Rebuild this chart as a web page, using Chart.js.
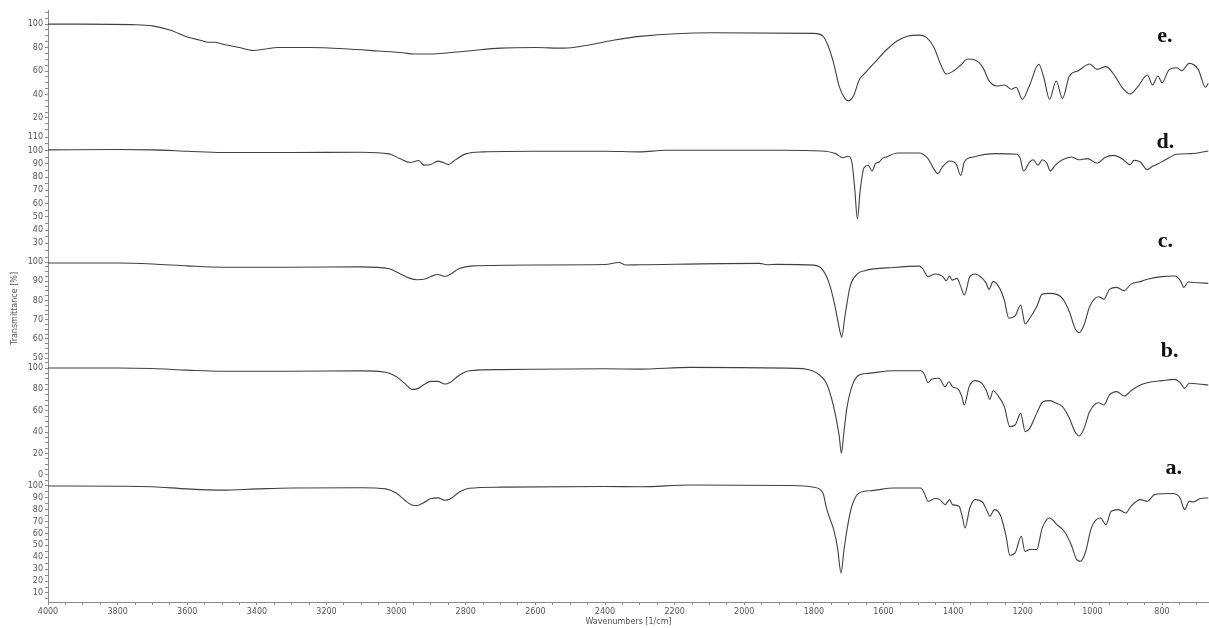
<!DOCTYPE html>
<html>
<head>
<meta charset="utf-8">
<script src="https://cdn.jsdelivr.net/npm/chart.js@4.4.1/dist/chart.umd.min.js"></script>
<style>
  html, body { margin: 0; padding: 0; background: #fff; }
  #wrap { width: 1209px; height: 628px; }
</style>
</head>
<body>
<div id="wrap"><canvas id="ftir" width="1209" height="628"></canvas></div>
<script>
// Espectros FTIR (número de onda en cm-1, transmitancia en %)
const waveA = [4000, 3800, 3700, 3600, 3500, 3400, 3300, 3100, 3030, 3000, 2975, 2955, 2940, 2920, 2900, 2880, 2860, 2845, 2820, 2790, 2700, 2400, 2300,
  2154, 1863, 1800, 1774, 1764, 1753, 1743, 1732, 1722, 1714, 1704, 1691, 1670, 1633, 1571, 1493, 1483, 1472, 1451, 1438, 1423, 1410, 1402, 1383, 1373, 1366,
  1352, 1337, 1316, 1302, 1295, 1281, 1263, 1248, 1237, 1222, 1204, 1194, 1180, 1160, 1144, 1123, 1102, 1081, 1061, 1045, 1034, 1019, 1003, 977, 961, 946,
  925, 904, 889, 862, 842, 821, 769, 748, 735, 722, 711, 690, 667];
const transA = [100, 99.8, 99.3, 97.5, 96.5, 97.5, 98.3, 98.5, 97.5, 94, 88, 84, 83.5, 86, 89.5, 90, 88, 89, 94.5, 98, 99, 99.5, 99.3,
  100.8, 100.4, 98.9, 94.1, 81.5, 71.7, 63.3, 47.9, 26.8, 45.1, 64.7, 82.9, 94.1, 96.1, 98.3, 98.3, 94.1, 87.1, 89.4, 88.5, 84.3, 88.5, 84.3, 82.9, 73.1, 64.7,
  81.5, 88.5, 86.5, 78.7, 74.5, 80.1, 74.5, 57.7, 41.7, 43.7, 57.7, 45.1, 46.5, 46.5, 64.7, 73.1, 67.5, 61.9, 50.7, 38.1, 36.7, 45.1, 64.7, 73.1, 67.5, 78.7,
  80.1, 77.3, 82.9, 88.5, 87.1, 92.7, 93.6, 89.9, 80.1, 87.1, 86.5, 89.4, 89.9];

const waveB = [4000, 3800, 3700, 3600, 3500, 3300, 3100, 3030, 3000, 2970, 2955, 2940, 2920, 2900, 2880, 2860, 2845, 2820, 2790, 2700, 2400, 2300,
  2154, 1852, 1790, 1764, 1748, 1737, 1727, 1721, 1714, 1706, 1691, 1670, 1644, 1571, 1493, 1483, 1472, 1462, 1441, 1423, 1412, 1402, 1385, 1375, 1368,
  1354, 1337, 1316, 1302, 1295, 1285, 1269, 1253, 1237, 1222, 1206, 1193, 1180, 1160, 1142, 1123, 1107, 1086, 1066, 1050, 1038, 1024, 1008, 982, 967, 951,
  930, 909, 889, 862, 842, 800, 764, 748, 735, 722, 696, 667];
const transB = [100, 100, 99.5, 98, 97, 97, 97.3, 96, 92, 84, 80, 80.5, 84.5, 87.5, 87.5, 85, 86.5, 93, 97.5, 98.5, 99.3, 99,
  100.6, 99.7, 95, 85.7, 70.1, 54.5, 35.8, 20.3, 39, 60.8, 82.6, 93.5, 95, 97.5, 97.5, 94.4, 86.3, 89.4, 90.4, 82.6, 87.2, 82.6, 80.1, 73.2, 65.4,
  82.6, 88.2, 85.1, 76.9, 70.7, 78.8, 73.2, 63.9, 45.2, 46.7, 57.6, 40.5, 43.6, 57.6, 68.5, 69.5, 67.6, 63.9, 53, 40.5, 36.5, 43.6, 59.2, 67.6, 65.4, 74.8,
  77.9, 73.8, 78.8, 84.1, 86.3, 88.2, 89.4, 86.3, 81, 85.7, 85.1, 84.1];

const waveC = [4000, 3800, 3700, 3600, 3500, 3300, 3100, 3020, 2990, 2960, 2940, 2920, 2900, 2880, 2860, 2845, 2820, 2780, 2600, 2400, 2360, 2340, 2300,
  1956, 1935, 1904, 1800, 1774, 1753, 1737, 1727, 1720, 1711, 1696, 1675, 1654, 1571, 1498, 1488, 1472, 1451, 1431, 1420, 1410, 1403, 1389, 1378, 1368,
  1352, 1337, 1316, 1305, 1297, 1285, 1269, 1253, 1240, 1222, 1206, 1193, 1180, 1160, 1144, 1123, 1104, 1086, 1066, 1050, 1038, 1024, 1008, 982, 967, 951,
  930, 909, 889, 862, 842, 800, 764, 748, 737, 725, 696, 667];
const transC = [99.5, 99.5, 99, 98, 97.3, 97.3, 97.5, 96.5, 94, 91.5, 90.8, 91, 92.5, 93.5, 92.5, 93.5, 96.5, 98, 98.5, 98.7, 99.8, 98.5, 98.6,
  99.3, 98.6, 98.8, 98.4, 95.8, 87.2, 75, 65.5, 60.8, 71.5, 87.2, 93.8, 95.5, 97.2, 97.9, 96.7, 92.4, 93.8, 92.7, 90.3, 92.7, 90.6, 91.5, 87.2, 82.8,
  92.4, 93.8, 91.5, 88.9, 85.8, 89.8, 87.2, 80.2, 70.7, 71.9, 77.6, 67.7, 70.7, 76.7, 83.3, 83.7, 83.3, 81.1, 74.1, 65.5, 63.2, 67.2, 76.7, 81.9, 80.6, 85.8,
  86.8, 85.1, 88.5, 89.8, 91, 92.4, 92.7, 90.6, 86.8, 89.6, 89.2, 88.9];

const waveD = [4000, 3800, 3700, 3600, 3500, 3300, 3100, 3020, 2990, 2960, 2935, 2920, 2900, 2880, 2865, 2850, 2830, 2800, 2750, 2600, 2400, 2300,
  2227, 1894, 1779, 1737, 1717, 1701, 1691, 1683, 1675, 1667, 1656, 1644, 1633, 1623, 1612, 1604, 1592, 1560, 1498, 1472, 1456, 1444, 1431, 1410, 1392,
  1378, 1368, 1342, 1279, 1217, 1207, 1198, 1180, 1170, 1156, 1144, 1131, 1121, 1107, 1086, 1060, 1040, 1014, 987, 961, 940, 915, 892, 880, 862, 843,
  827, 811, 790, 758, 717, 667];
const transD = [100.5, 100.8, 100.5, 99.5, 98.5, 98.5, 98.7, 97.5, 94, 91, 92.5, 89, 89.5, 92, 91, 89.5, 93, 97.5, 99, 99.5, 99.5, 99,
  100.2, 100.2, 99.7, 97.7, 94.6, 95.7, 91.4, 72.5, 48.6, 70, 87.1, 88.9, 84.6, 90.1, 91.4, 93.9, 95.2, 98.2, 98.2, 93.9, 86.4, 82.6, 87.6, 92.1, 90.1,
  81.3, 91.4, 95.2, 97.7, 97.2, 93.9, 84.6, 91.4, 93.1, 88.9, 93.1, 90.6, 84.6, 88.9, 93.1, 95.2, 93.1, 93.9, 90.6, 95.2, 96.4, 93.9, 89.4, 92.6, 91.4, 85.6,
  88.1, 90.1, 93.1, 97.2, 97.7, 99.7];

const waveE = [4000, 3900, 3760, 3700, 3650, 3600, 3560, 3540, 3520, 3500, 3450, 3410, 3380, 3340, 3250, 3150, 3050, 2980, 2950, 2900, 2850, 2780, 2700,
  2600, 2520, 2450, 2380, 2300, 2092, 1800, 1774, 1758, 1743, 1727, 1711, 1701, 1685, 1670, 1654, 1623, 1592, 1560, 1529, 1498, 1477, 1456, 1435, 1420,
  1399, 1378, 1358, 1337, 1316, 1295, 1274, 1253, 1232, 1219, 1201, 1180, 1154, 1139, 1123, 1104, 1086, 1066, 1040, 1008, 987, 961, 935, 915, 892, 868,
  842, 827, 812, 800, 779, 758, 743, 722, 696, 675, 667];
const transE = [100, 100, 99.5, 98.5, 95, 89, 86, 84.5, 84.5, 83, 80, 77.5, 78.5, 80, 80, 79, 77, 75.5, 74.5, 74.5, 75.5, 77.5, 79.5,
  80, 79.5, 82, 86, 89.5, 92.6, 92.1, 89.8, 80.7, 66.5, 46.7, 36.7, 34.5, 39.6, 52.3, 58, 68, 77.9, 85.8, 89.8, 90.6, 88.7, 80.7, 65.1, 57.4,
  60, 65.1, 70.2, 69.4, 63.7, 50.9, 47.2, 48.1, 44.4, 46.1, 35.9, 48.1, 65.7, 53.8, 35.9, 51.5, 36.7, 55.7, 60.3, 66, 61.4, 63.7, 55.7, 46.1, 40.4, 47.2,
  56.6, 48.1, 55.7, 50.1, 61.4, 62.8, 60.3, 66.5, 61.4, 46.1, 49.5];

const panelNames = ['a.', 'b.', 'c.', 'd.', 'e.'];
const xTicksMajor = 200;

function toPoints(waves, trans) {
    return waves.map((w, i) => ({ x: w, y: trans[i] }));
}

const labelColor = '#555';
const axisColor = '#8a8a8a';
const tickFont = { family: 'DejaVu Sans', size: 8 };

// Eje Y común para cada panel apilado
function panelAxis(min, max, minorStep, majorStep, height, extra) {
    return {
        type: 'linear',
        position: 'left',
        stack: 'panels',
        stackWeight: height,
        min: min,
        max: max,
        grid: { drawOnChartArea: false, drawTicks: true, tickLength: 3, color: axisColor },
        border: { color: axisColor, width: 1 },
        ticks: {
            stepSize: minorStep,
            includeBounds: false,
            autoSkip: false,
            padding: 2,
            color: labelColor,
            font: tickFont,
            callback: v => (Math.abs(v % majorStep) < 1e-6 ? String(v) : '')
        },
        afterFit: scale => { scale.width = 48; },
        ...extra
    };
}

// Etiquetas a., b., ... dibujadas sobre las escalas
const panelLabelPlugin = {
    id: 'panelLabels',
    afterDatasetsDraw(chart, args, opts) {
        const ctx = chart.ctx;
        ctx.save();
        ctx.font = 'bold 22px "Liberation Serif"';
        ctx.fillStyle = '#111';
        ctx.textAlign = 'center';
        ctx.textBaseline = 'alphabetic';
        opts.items.forEach(item => {
            const px = chart.scales.x.getPixelForValue(item.x);
            const py = chart.scales[item.axis].getPixelForValue(item.y);
            ctx.fillText(item.text, px, py);
        });
        ctx.restore();
    }
};

const lineStyle = {
    borderColor: '#404040',
    borderWidth: 1.1,
    pointRadius: 0,
    pointHoverRadius: 0,
    cubicInterpolationMode: 'monotone',
    fill: false
};

new Chart(document.getElementById('ftir').getContext('2d'), {
    type: 'line',
    data: {
        datasets: [
            { label: panelNames[0], data: toPoints(waveA, transA), yAxisID: 'yA', ...lineStyle },
            { label: panelNames[1], data: toPoints(waveB, transB), yAxisID: 'yB', ...lineStyle },
            { label: panelNames[2], data: toPoints(waveC, transC), yAxisID: 'yC', ...lineStyle },
            { label: panelNames[3], data: toPoints(waveD, transD), yAxisID: 'yD', ...lineStyle },
            { label: panelNames[4], data: toPoints(waveE, transE), yAxisID: 'yE', ...lineStyle }
        ]
    },
    options: {
        responsive: false,
        animation: false,
        layout: { padding: { top: 10, right: 0, bottom: 0, left: 0 } },
        plugins: {
            legend: { display: false },
            tooltip: { enabled: false },
            panelLabels: {
                items: [
                    { text: panelNames[4], axis: 'yE', x: 792, y: 84.7 },
                    { text: panelNames[3], axis: 'yD', x: 790, y: 101.7 },
                    { text: panelNames[2], axis: 'yD', x: 790, y: 27 },
                    { text: panelNames[1], axis: 'yC', x: 778, y: 50.5 },
                    { text: panelNames[0], axis: 'yB', x: 766, y: 0.9 }
                ]
            }
        },
        scales: {
            x: {
                type: 'linear',
                reverse: true,
                min: 665,
                max: 4000,
                grid: { drawOnChartArea: false, drawTicks: true, tickLength: 3, color: axisColor },
                border: { color: axisColor, width: 1 },
                ticks: {
                    stepSize: 50,
                    includeBounds: false,
                    autoSkip: false,
                    maxRotation: 0,
                    padding: 2,
                    color: labelColor,
                    font: tickFont,
                    callback: v => (v % xTicksMajor === 0 ? String(v) : '')
                },
                title: {
                    display: true,
                    text: 'Wavenumbers [1/cm]',
                    color: labelColor,
                    font: tickFont,
                    padding: { top: 0, bottom: 1 }
                },
                afterFit: scale => { scale.height = 26; }
            },
            yA: panelAxis(2.4, 105, 5, 10, 122),
            yB: panelAxis(-4.7, 104.7, 5, 20, 117),
            yC: panelAxis(47.4, 104.2, 2.5, 10, 109, {
                title: {
                    display: true,
                    text: 'Transmittance [%]',
                    color: labelColor,
                    font: tickFont,
                    padding: { top: 10, bottom: 0 }
                }
            }),
            yD: panelAxis(22, 114, 5, 10, 122),
            yE: panelAxis(8, 112, 5, 20, 122)
        }
    },
    plugins: [panelLabelPlugin]
});
</script>
</body>
</html>
